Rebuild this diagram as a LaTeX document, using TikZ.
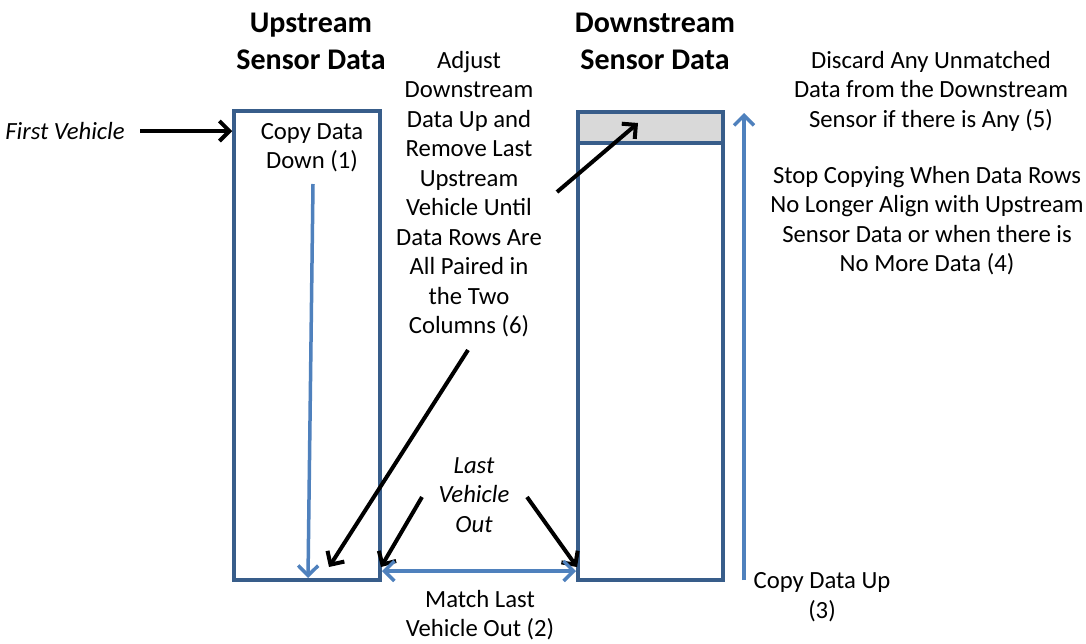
\documentclass[tikz,border=0pt]{standalone}
\usepackage{fontspec}
\setmainfont{Carlito}
\usetikzlibrary{arrows.meta}
\definecolor{boxblue}{RGB}{56,93,138}
\definecolor{arrblue}{RGB}{79,129,189}
\definecolor{bandgray}{RGB}{217,217,217}
\begin{document}
\begin{tikzpicture}[x=1pt,y=-1pt,
  txt/.style={font=\fontsize{24.7}{29.5}\selectfont, align=center, inner sep=0pt, anchor=base},
  itxt/.style={txt, font=\fontsize{24.7}{29.5}\selectfont\itshape},
  head/.style={font=\fontsize{30}{37}\selectfont\bfseries, align=center, inner sep=0pt, anchor=base},
  column/.style={draw=boxblue, line width=3.5pt, inner sep=0pt},
  blk/.style={line width=4pt, -{Straight Barb[length=10pt,width=20pt]}},
  blu/.style={draw=arrblue, line width=3.5pt, -{Straight Barb[length=10pt,width=20pt]}},
]
\useasboundingbox (0,0) rectangle (1086,643);
\fill[white] (0,0) rectangle (1086,643);

% columns
\node[column, minimum width=146pt, minimum height=469pt] (up) at (307,345.5) {};
\node[column, minimum width=145pt, minimum height=468pt] (down) at (650.5,346) {};
\node[column, fill=bandgray, minimum width=145pt, minimum height=31pt] (band) at (650.5,127.5) {};

% headings (anchor base = last line)
\node[head] (uph) at (311,69) {Upstream\\Sensor Data};
\node[head] (downh) at (655,69) {Downstream\\Sensor Data};

% texts
\node[itxt] (fv) at (65,139) {First Vehicle};
\node[txt] (cdd) at (312,168.5) {Copy Data\\Down (1)};
\node[txt] (adj) at (469,333.5) {Adjust\\Downstream\\Data Up and\\Remove Last\\Upstream\\Vehicle Until\\Data Rows Are\\All Paired in\\the Two\\Columns (6)};
\node[itxt] (lvo) at (474,532) {Last\\Vehicle\\Out};
\node[txt] (mlv) at (480,636.5) {Match Last\\Vehicle Out (2)};
\node[txt] (cdu) at (822,618) {Copy Data Up\\(3)};
\node[txt] (disc) at (931,127) {Discard Any Unmatched\\Data from the Downstream\\Sensor if there is Any (5)};
\node[txt] (stop) at (927,271.5) {Stop Copying When Data Rows\\No Longer Align with Upstream\\Sensor Data or when there is\\No More Data (4)};

% coordinates for connector ends
\coordinate (fvs) at (140,131);
\coordinate (cd1) at (313,184);
\coordinate (cd2) at (308,578);
\coordinate (a1s) at (557,192);
\coordinate (a1e) at (638,123);
\coordinate (a2s) at (468,350);
\coordinate (a2e) at (329,567);
\coordinate (l1s) at (422,497);
\coordinate (l1e) at (381,567);
\coordinate (l2s) at (527,497);
\coordinate (l2e) at (577,567);
\coordinate (m1) at (382,571);
\coordinate (m2) at (576,571);
\coordinate (u1) at (744,580);
\coordinate (u2) at (744,113);

% connectors
\draw[blk] (fvs) -- (fvs -| up.west);
\draw[blu] (cd1) -- (cd2);
\draw[blk] (a1s) -- (a1e);
\draw[blk] (a2s) -- (a2e);
\draw[blk] (l1s) -- (l1e);
\draw[blk] (l2s) -- (l2e);
\draw[blu, {Straight Barb[length=10pt,width=20pt]}-{Straight Barb[length=10pt,width=20pt]}] (m1) -- (m2);
\draw[blu] (u1) -- (u2);
\end{tikzpicture}
\end{document}
